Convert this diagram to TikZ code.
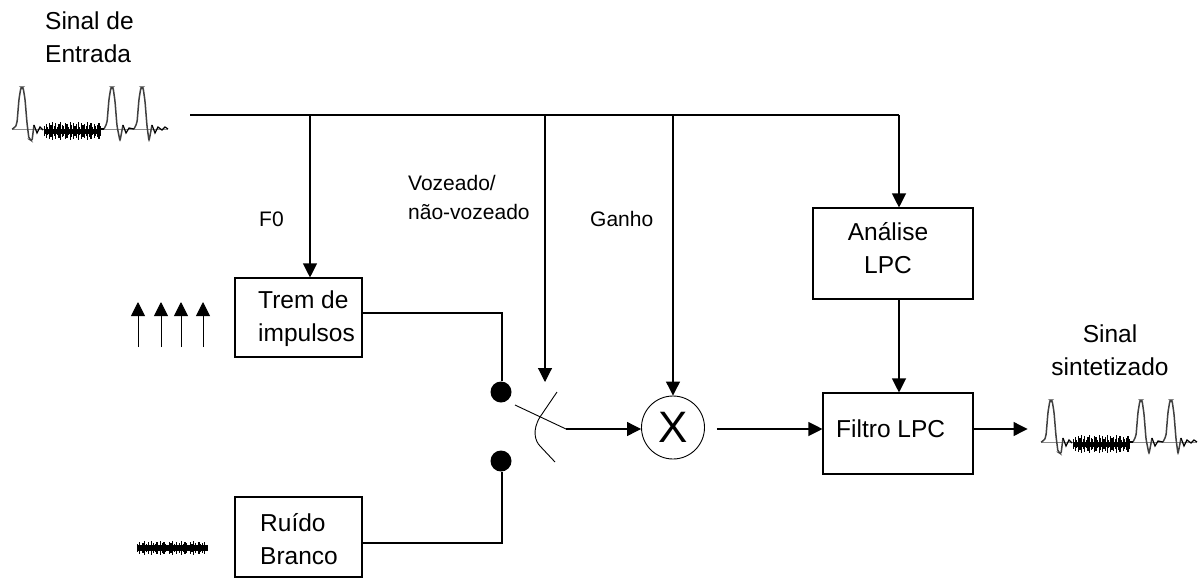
\documentclass[tikz,border=0pt]{standalone}
\usepackage{fontspec}
\setmainfont{Liberation Sans}
\usetikzlibrary{calc, arrows.meta, positioning}
\tikzset{
  bloco/.style={draw, line width=1.1pt, minimum width=#1, inner sep=0pt},
  rotulo/.style={inner sep=0pt, font=\fontsize{24.5}{33}\selectfont, align=#1},
  rotulomenor/.style={inner sep=0pt, font=\fontsize{21}{29}\selectfont, align=left},
  seta/.style={-{Triangle[length=14pt, width=14pt]}, line width=1.1pt},
  linha/.style={line width=1.1pt},
  contato/.style={circle, fill=black, minimum size=21pt, inner sep=0pt},
  pics/sinal/.style={code={
    % baseline first, the pulses in grey, the voiced part in black
    \draw[black!45, line width=.8pt] (0,0) -- (156,0);
    \draw[black!75, line width=1.5pt, rounded corners=2pt] (0,0) -- (3,-1) -- (5,-6) -- (7,-30) -- (9,-42) -- (11,-42) -- (13,-30) -- (15,-6) -- (17,10) -- (20,12) -- (22,-4);
    \draw[black!75, line width=1.5pt, rounded corners=2pt] (92,0) -- (95,-6) -- (97,-30) -- (99,-42) -- (101,-42) -- (103,-28) -- (105,-3) -- (108,12) -- (111,-4);
    \draw[black!75, line width=1.5pt, rounded corners=2pt] (122,0) -- (125,-6) -- (127,-30) -- (129,-42) -- (131,-42) -- (133,-28) -- (135,-3) -- (137,12) -- (140,-4);
    \draw[line width=1.2pt] (22,-4) -- (25,4) -- (28,-2) -- (31,1);
    \draw[line width=1.2pt] (111,-4) -- (114,4) -- (117,-1) -- (122,0);
    \draw[line width=1.2pt] (140,-4) -- (143,4) -- (146,-2) -- (150,1) -- (153,-2) -- (156,0);
    \draw[line width=1.2pt] (88,0) -- (92,0);
    \fill[black] (33,0) rectangle (88,5);
    \foreach \passo [count = \i] in {3,5,2,6,4,7,3,6,2,5,7,4,3,6,5,2,7,4,6,3,5,7,2,6,4,5,3,7,4,6,2,5,3,4,6,3}{
      \draw[line width=1.3pt] (31 + 1.6*\i, -\passo) -- (31 + 1.6*\i, \passo+4);
    }
  }},
  pics/ruido/.style={code={
    \fill[black] (2,-3) rectangle (72,3);
    \foreach \passo [count = \i] in {4,6,3,5,7,4,6,3,7,5,4,6,3,7,5,6,4,3,6,5,7,4,6,3,5,7,4,6,5,3,6,4,7,5,3,6,4,5,6,3}{
      \draw[line width=1.1pt] (1.75*\i, -\passo) -- (1.75*\i, \passo);
    }
  }},
}
\begin{document}
\begin{tikzpicture}[x=1pt, y=-1pt]
  \useasboundingbox (0,0) rectangle (1202,579);
  % blocks
  \node[bloco=127pt, minimum height=79pt] (trem) at (298.5,317.5) {};
  \node[rotulo=left, anchor=north west] (tremtxt) at (258,291) {Trem de\\impulsos};
  \node[bloco=127pt, minimum height=80pt] (ruido) at (298.5,537) {};
  \node[rotulo=left, anchor=north west] (ruidotxt) at (260,513) {Ruído\\Branco};
  \node[bloco=160pt, minimum height=91pt] (analise) at (893,253.5) {};
  \node[rotulo=center, anchor=north] (analisetxt) at (888,222) {Análise\\LPC};
  \node[bloco=150pt, minimum height=81pt] (filtro) at (898,433.5) {};
  \node[rotulo=left, anchor=base west] (filtrotxt) at (836,437) {Filtro LPC};
  \node[draw, circle, line width=.9pt, minimum size=63pt, inner sep=0pt, font=\fontsize{44}{44}\selectfont] (mult) at (673,427.5) {X};
  \node[contato] (c1) at (501,392) {};
  \node[contato] (c2) at (501,461) {};
  % labels
  \node[rotulo=left, anchor=north west] (entrada) at (45,12) {Sinal de\\Entrada};
  \node[rotulomenor, anchor=base west] (f0) at (259,226) {F0};
  \node[rotulomenor, anchor=north west] (voz) at (408,175) {Vozeado/\\não-vozeado};
  \node[rotulomenor, anchor=base west] (ganho) at (590,226) {Ganho};
  \node[rotulo=center, anchor=north] (saida) at (1110,325) {Sinal\\sintetizado};
  % main line and what hangs from it
  \coordinate (ini) at (190,115);
  \coordinate (j2) at (545,115);
  \coordinate (j3) at (mult.north |- ini);
  \coordinate (j4) at (899,115);
  \coordinate (q1) at (310,115);
  \coordinate (tip) at (545,382);
  \draw[linha] (ini) -- (j4);
  \draw[seta] (q1) -- (q1 |- trem.north);
  \draw[seta] (j2) -- (tip);
  \draw[seta] (j3) -- (mult.north);
  \draw[seta] (j4) -- (j4 |- analise.north);
  \draw[seta] (j4 |- analise.south) -- (j4 |- filtro.north);
  % switch
  \coordinate (sw1) at (515,405);
  \coordinate (sw2) at (566,429);
  \coordinate (d1) at (502,313);
  \coordinate (d2) at (502,543);
  \draw[linha] (trem.east |- d1) -- (d1) -- (d1 |- c1.north);
  \draw[linha] (d1 |- c2.south) -- (d2) -- (ruido.east |- d2);
  \draw[line width=.9pt] (sw1) -- (sw2);
  \draw[seta] (sw2) -- (mult.west |- sw2);
  \draw[line width=.9pt] (557,392) -- (540,417) .. controls (532,430) and (535,441) .. (540,446) -- (555,462);
  \draw[seta] (mult.east |- sw2) ++(12,0) -- (filtro.west |- sw2);
  \draw[seta] (filtro.east |- sw2) -- ++(54,0);
  % impulses
  \foreach \xpos in {138,161,181,203}{
    \draw[-{Triangle[length=14pt, width=14pt]}, line width=1pt] (\xpos,347) -- (\xpos,302);
  }
  % signals
  \pic at (12,129) {sinal};
  \pic at (1041,442) {sinal};
  \pic at (136,548) {ruido};
\end{tikzpicture}
\end{document}
